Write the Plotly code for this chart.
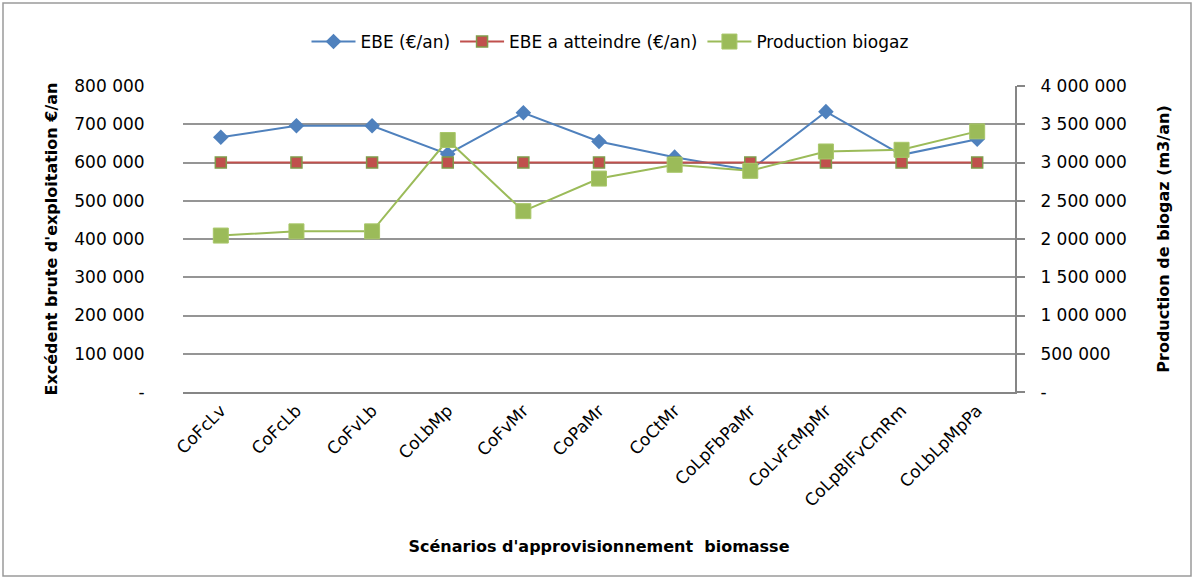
import plotly.graph_objects as go

scenarios = ["CoFcLv", "CoFcLb", "CoFvLb", "CoLbMp", "CoFvMr", "CoPaMr", "CoCtMr",
             "CoLpFbPaMr", "CoLvFcMpMr", "CoLpBlFvCmRm", "CoLbLpMpPa"]
ebe = [666000, 696000, 696000, 622000, 730000, 655000, 614000, 580000, 733000, 620000, 661000]
ebe_target = [600000] * 11
biogaz = [2045000, 2100000, 2100000, 3294000, 2364000, 2790000, 2970000, 2891000, 3144000, 3166000, 3407000]

left_ticks = [0, 100000, 200000, 300000, 400000, 500000, 600000, 700000, 800000]
left_labels = ["-", "100 000", "200 000", "300 000", "400 000", "500 000", "600 000", "700 000", "800 000"]
right_ticks = [0, 500000, 1000000, 1500000, 2000000, 2500000, 3000000, 3500000, 4000000]
right_labels = ["-", "500 000", "1 000 000", "1 500 000", "2 000 000", "2 500 000", "3 000 000", "3 500 000", "4 000 000"]

FONT = "DejaVu Sans"
fig = go.Figure()
fig.add_trace(go.Scatter(x=scenarios, y=ebe, name="EBE (€/an)", mode="lines+markers",
                         line=dict(color="#4F81BD", width=2),
                         marker=dict(symbol="diamond", size=12, color="#4F81BD")))
fig.add_trace(go.Scatter(x=scenarios, y=ebe_target, name="EBE a atteindre (€/an)", mode="lines+markers",
                         line=dict(color="#C0504D", width=2),
                         marker=dict(symbol="square", size=11, color="#C0504D",
                                     line=dict(color="#7F9B4A", width=1.5))))
fig.add_trace(go.Scatter(x=scenarios, y=biogaz, name="Production biogaz", mode="lines+markers",
                         yaxis="y2",
                         line=dict(color="#9BBB59", width=2),
                         marker=dict(symbol="square", size=15, color="#9BBB59",
                                     line=dict(color="#A9C76A", width=1))))

W, H = 1195, 579
ml, mr, mt, mb = 183, 180, 86, 187
pw, ph = W - ml - mr, H - mt - mb

fig.update_layout(
    width=W, height=H,
    margin=dict(l=ml, r=mr, t=mt, b=mb),
    paper_bgcolor="white", plot_bgcolor="white",
    font=dict(family=FONT, size=17, color="black"),
    showlegend=True,
    legend=dict(orientation="h", x=(610 - ml) / pw, xanchor="center", y=(392 - 42) / ph,
                yanchor="middle", font=dict(size=17), itemwidth=44, traceorder="normal"),
    xaxis=dict(type="category", tickangle=-45, showgrid=False, showline=True,
               linecolor="#868686", linewidth=2, ticks="", tickfont=dict(size=17),
               range=[-0.5, 10.5],
               title=dict(text="<b>Scénarios d'approvisionnement  biomasse</b>",
                          font=dict(size=16), standoff=31)),
    yaxis=dict(range=[0, 800000], tickvals=left_ticks, ticktext=left_labels,
               showgrid=True, gridcolor="#959595", gridwidth=1.5, zeroline=False,
               showline=False, ticks="outside", ticklen=34, tickcolor="rgba(0,0,0,0)",
               tickfont=dict(size=17),
               title=dict(text="<b>Excédent brute d'exploitation €/an</b>", font=dict(size=16),
                          standoff=12)),
    yaxis2=dict(range=[0, 4000000], tickvals=right_ticks, ticktext=right_labels,
                overlaying="y", side="right", showgrid=False, zeroline=False,
                showline=True, linecolor="#868686", linewidth=2,
                ticks="outside", ticklen=8, tickcolor="#868686", tickwidth=1.5,
                ticklabelstandoff=12, tickfont=dict(size=17),
                title=dict(text="<b>Production de biogaz (m3/an)</b>", font=dict(size=16),
                           standoff=32)),
    shapes=[dict(type="rect", xref="paper", yref="paper",
                 x0=(3 - ml) / pw, x1=(1191 - ml) / pw,
                 y0=(H - mb - 576) / ph, y1=(H - mb - 3) / ph,
                 line=dict(color="#9A9A9A", width=1.5), fillcolor="rgba(0,0,0,0)", layer="below")],
)

fig.write_html("out.html", config={"displayModeBar": False},
               post_script="document.body.style.margin='0';")
